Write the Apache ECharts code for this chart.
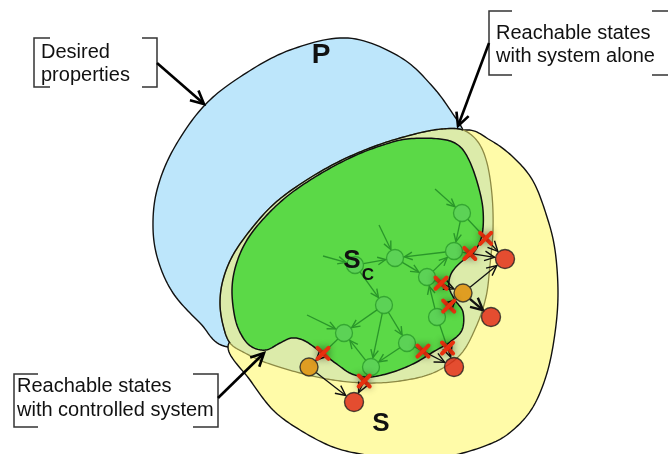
<!DOCTYPE html>
<html><head><meta charset="utf-8">
<script src="https://cdn.jsdelivr.net/npm/echarts@6/dist/echarts.min.js"></script>
<style>html,body{margin:0;padding:0;background:#fff}#c{width:668px;height:454px}</style>
</head><body><div id="c"></div>
<script>
// ---- region outlines (diagram units: x right, y down) ----
const regionP = [[463,130],[455,117],[433,87],[400,57],[348,38],[290,50],[240,77],[203,107],[173,150],[157,190],[153,227],[158,260],[173,293],[200,323],[228,347],[300,340],[400,250],[480,165]];
const regionS = [[228,347],[250,380],[273,410],[300,430],[333,447],[367,455],[410,459],[450,456],[490,444],[513,430],[533,407],[547,373],[555,333],[558,293],[555,250],[547,217],[533,181],[513,157],[490,140],[465,130],[420,145],[330,185],[270,250],[250,320]];
const regionReach = [[463,130],[478,142],[487,163],[492,195],[493,230],[490,265],[486,297],[476,327],[460,355],[433,373],[400,381],[367,383],[333,380],[300,373],[267,363],[245,353],[230,343],[223,325],[220,303],[223,280],[233,255],[252,228],[275,203],[305,181],[340,161],[378,145],[415,134],[442,129]];
const reachBlackFrom = 16; // outline index where the dark edge begins
const regionSc = [[407,139],[440,139],[458,145],[469,160],[478,185],[483,210],[482,235],[474,252],[460,263],[451,274],[449,287],[455,300],[463,312],[462,330],[450,342],[433,352],[415,363],[393,372],[370,377],[352,374],[338,365],[322,353],[305,341],[292,338],[280,343],[266,350],[252,347],[242,336],[235,318],[232,290],[236,265],[247,240],[266,216],[290,194],[320,174],[352,157],[380,146]];

// ---- states ----
const nodeNames = ['sc','n1','n2','n3','n4','n5','n6','n7','n8','n9','o1','o2','r1','r2','r3','r4'];
const nodeX     = [355, 462, 454, 395, 427, 384, 344, 407, 371, 437, 309, 463, 505, 491, 454, 354];
const nodeY     = [265, 213, 251, 258, 277, 305, 333, 343, 367, 317, 367, 293, 259, 317, 367, 402];
const nodeKind  = ['g','g','g','g','g','g','g','g','g','g','o','o','r','r','r','r'];

// ---- transitions ----
const edgeFrom = ['sc','sc','n1','n2','n3','n4','n9','n5','n5','n5','n7','n8','n1','n2','n4','n9','n9','n7','n6','n8','o2','o2','o1'];
const edgeTo   = ['n3','n5','n2','n3','n4','n2','n4','n6','n8','n7','n8','n6','r1','r1','o2','o2','r3','r3','o1','r4','r1','r2','r4'];
const edgeCut  = [0,0,0,0,0,0,0,0,0,0,0,0,0.55,0.31,0.39,0.45,0.62,0.34,0.6,0.4,0,0,0];
const edgeBold = [0,0,0,0,0,0,0,0,0,0,0,0,0,0,0,0,0,0,0,0,0,1,0];

// incoming transitions from outside the drawing
const stubX  = [435, 379, 323, 307];
const stubY  = [189, 225, 256, 315];
const stubTo = ['n1','n3','sc','n6'];

// ---------------------------------------------------------------
const GREEN_LINE = '#2a962a';
const R = {g:8.5, o:9, r:9.5};
const idx = n => nodeNames.indexOf(n);

function spline(pts, closed, seg){
  const out=[], n=pts.length;
  const get=i=> closed ? pts[(i+n)%n] : pts[Math.max(0,Math.min(n-1,i))];
  const last = closed ? n : n-1;
  for(let i=0;i<last;i++){
    const p0=get(i-1),p1=get(i),p2=get(i+1),p3=get(i+2);
    for(let s=0;s<seg;s++){
      const t=s/seg,t2=t*t,t3=t2*t;
      const f=k=>0.5*(2*p1[k]+(-p0[k]+p2[k])*t+(2*p0[k]-5*p1[k]+4*p2[k]-p3[k])*t2+(-p0[k]+3*p1[k]-3*p2[k]+p3[k])*t3);
      out.push([f(0),f(1)]);
    }
  }
  if(!closed) out.push(pts[n-1]);
  return out;
}
const SEG=14;

function regionSeries(pts, fill, stroke, lw, z){
  return {type:'custom', coordinateSystem:'cartesian2d', z, silent:true, data:[[0,0]],
    renderItem:(p,api)=>({type:'polygon', shape:{points:spline(pts,true,SEG).map(q=>api.coord(q))},
      style:{fill, stroke, lineWidth:lw}})};
}

function arrowHead(e,ux,uy,len,w){
  const bx=e[0]-ux*len, by=e[1]-uy*len;
  return [[bx-uy*w, by+ux*w],[e[0],e[1]],[bx+uy*w, by-ux*w]];
}

function edgeShapes(pa,pb,ra,rb,cut,col,lw,bold){
  const dx=pb[0]-pa[0], dy=pb[1]-pa[1], L=Math.hypot(dx,dy), ux=dx/L, uy=dy/L;
  const s=[pa[0]+ux*ra, pa[1]+uy*ra], e=[pb[0]-ux*(rb+1), pb[1]-uy*(rb+1)];
  const ch=[];
  let headCol=col, hl=col===GREEN_LINE?8:10, hw=col===GREEN_LINE?3.8:4.8;
  if(cut){
    const m=[pa[0]+dx*cut, pa[1]+dy*cut];
    ch.push({type:'line', shape:{x1:s[0],y1:s[1],x2:m[0],y2:m[1]}, style:{stroke:GREEN_LINE, lineWidth:1.3}});
    ch.push({type:'line', shape:{x1:m[0],y1:m[1],x2:e[0],y2:e[1]}, style:{stroke:'#111', lineWidth:1.3}});
    headCol='#111'; hl=10; hw=4.8;
  } else {
    ch.push({type:'line', shape:{x1:s[0],y1:s[1],x2:e[0],y2:e[1]}, style:{stroke:col, lineWidth:lw}});
  }
  if(bold){hl=12; hw=6;}
  ch.push({type:'polyline', shape:{points:arrowHead(e,ux,uy,hl,hw)}, style:{stroke:headCol, lineWidth:bold?2.4:1.4, fill:null, lineJoin:'miter'}});
  return ch;
}

const chart = echarts.init(document.getElementById('c'), null, {renderer:'canvas'});

const reachDark = (()=>{
  const all = spline(regionReach,true,SEG);
  const part = all.slice(reachBlackFrom*SEG);
  part.push(all[0]);
  return part;
})();

const option = {
  animation:false,
  backgroundColor:'#ffffff',
  grid:{left:0,right:0,top:0,bottom:0},
  xAxis:{type:'value', min:0, max:668, show:false},
  yAxis:{type:'value', min:0, max:454, inverse:true, show:false},
  series:[
    regionSeries(regionP, '#bde6fb', '#111', 1.4, 1),
    regionSeries(regionS, '#fffba8', '#111', 1.4, 2),
    regionSeries(regionReach, '#dcebaa', '#8d8a45', 1.3, 3),
    {type:'custom', coordinateSystem:'cartesian2d', z:4, silent:true, data:[[0,0]],
      renderItem:(p,api)=>({type:'polyline', shape:{points:reachDark.map(q=>api.coord(q))}, style:{stroke:'#111', lineWidth:1.4, fill:null}})},
    regionSeries(regionSc, '#5bd947', '#111', 1.5, 5),
    // transitions
    {type:'custom', coordinateSystem:'cartesian2d', z:6, silent:true,
      data: edgeFrom.map((f,i)=>[nodeX[idx(f)], nodeY[idx(f)]]),
      renderItem:(p,api)=>{
        const i=p.dataIndex, a=idx(edgeFrom[i]), b=idx(edgeTo[i]);
        const pa=api.coord([nodeX[a],nodeY[a]]), pb=api.coord([nodeX[b],nodeY[b]]);
        const toGreen = nodeKind[b]==='g' && nodeKind[a]==='g';
        const col = toGreen ? GREEN_LINE : '#111';
        return {type:'group', children: edgeShapes(pa,pb,R[nodeKind[a]],R[nodeKind[b]],edgeCut[i],col,edgeBold[i]?2.4:1.3,edgeBold[i])};
      }},
    {type:'custom', coordinateSystem:'cartesian2d', z:6, silent:true,
      data: stubX.map((x,i)=>[x, stubY[i]]),
      renderItem:(p,api)=>{
        const i=p.dataIndex, b=idx(stubTo[i]);
        const pa=api.coord([stubX[i],stubY[i]]), pb=api.coord([nodeX[b],nodeY[b]]);
        return {type:'group', children: edgeShapes(pa,pb,0,R.g,0,GREEN_LINE,1.3,0)};
      }},
    // states
    {type:'scatter', z:7, silent:true, symbol:'circle',
      data: nodeNames.map((n,i)=>{
        const k=nodeKind[i];
        const st = k==='g' ? {color:'#5ccf5a', borderColor:'#2b9a2b', borderWidth:1.3}
                 : k==='o' ? {color:'#e08a00', borderColor:'#222', borderWidth:1.4}
                 : {color:'#dd2211', borderColor:'#222', borderWidth:1.4};
        return {value:[nodeX[i],nodeY[i]], symbolSize:R[k]*2, itemStyle:st};
      })},
    // blocked transitions
    {type:'custom', coordinateSystem:'cartesian2d', z:8, silent:true,
      data: edgeCut.map((c,i)=>[i,c]).filter(d=>d[1]>0),
      renderItem:(p,api)=>{
        const i=api.value(0), c=api.value(1), a=idx(edgeFrom[i]), b=idx(edgeTo[i]);
        const m=api.coord([nodeX[a]+(nodeX[b]-nodeX[a])*c, nodeY[a]+(nodeY[b]-nodeY[a])*c]);
        const d=5.5, st={stroke:'#e8300e', lineWidth:4, lineCap:'round', shadowBlur:7, shadowColor:'rgba(0,0,0,0.45)'};
        return {type:'group', children:[
          {type:'line', shape:{x1:m[0]-d,y1:m[1]-d,x2:m[0]+d,y2:m[1]+d}, style:st},
          {type:'line', shape:{x1:m[0]-d,y1:m[1]+d,x2:m[0]+d,y2:m[1]-d}, style:st}
        ]};
      }}
  ],
  graphic:(()=>{
    const F="'Liberation Sans', Arial, sans-serif";
    const txt=(x,y,t,size,bold)=>({type:'text', z:100, x, y, silent:true,
      style:{text:t, font:(bold?'bold ':'')+size+'px '+F, fill:'#111', verticalAlign:'middle', align:'left'}});
    const ctxt=(x,y,t,size)=>({type:'text', z:100, x, y, silent:true,
      style:{text:t, font:'bold '+size+'px '+F, fill:'#111', verticalAlign:'middle', align:'center'}});
    const pl=(pts,lw,col)=>({type:'polyline', z:100, silent:true, shape:{points:pts}, style:{stroke:col||'#333', lineWidth:lw||1.5, fill:null}});
    const pointer=(x1,y1,x2,y2)=>{
      const dx=x2-x1, dy=y2-y1, L=Math.hypot(dx,dy), ux=dx/L, uy=dy/L;
      return [pl([[x1,y1],[x2-ux*1,y2-uy*1]],2.6,'#000'), pl(arrowHead([x2,y2],ux,uy,13,6.5),2.6,'#000')];
    };
    return [
      pl([[50,38],[34,38],[34,87],[50,87]]), pl([[142,38],[157,38],[157,87],[142,87]]),
      txt(41,52,'Desired',20), txt(41,75,'properties',20),
      pl([[512,11],[489,11],[489,75],[512,75]]), pl([[652,11],[669,11],[669,75],[652,75]]),
      txt(496,33,'Reachable states',20), txt(496,56,'with system alone',20),
      pl([[38,374],[14,374],[14,427],[38,427]]), pl([[193,374],[218,374],[218,427],[193,427]]),
      txt(17,386,'Reachable states',20), txt(17,410,'with controlled system',20),
      ...pointer(157,63,204,104), ...pointer(489,43,458,126), ...pointer(218,398,264,353),
      ctxt(321,55,'P',28), ctxt(381,424,'S',26), ctxt(352,261,'S',26), ctxt(368,275,'C',17)
    ];
  })()
};
chart.setOption(option);
</script></body></html>
